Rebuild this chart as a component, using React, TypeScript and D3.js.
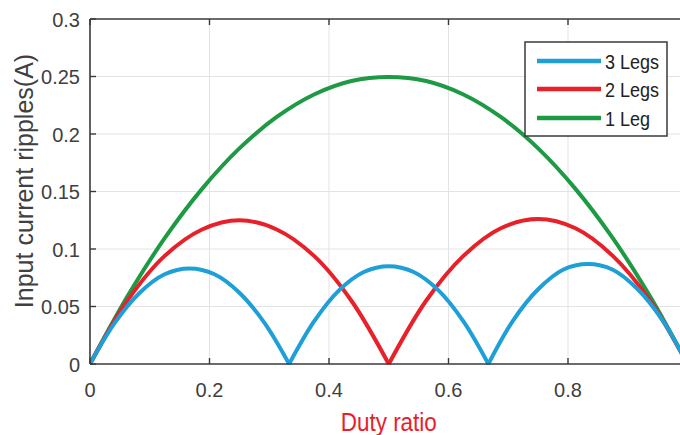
import React from "react";
import * as d3 from "d3";

// ---- data ----
const xTicks = [0, 0.2, 0.4, 0.6, 0.8];
const yTicks = [0, 0.05, 0.1, 0.15, 0.2, 0.25, 0.3];
const xTickLabels = ["0", "0.2", "0.4", "0.6", "0.8"];
const yTickLabels = ["0", "0.05", "0.1", "0.15", "0.2", "0.25", "0.3"];

const seriesNames = ["3 Legs", "2 Legs", "1 Leg"];
const seriesColors = ["#1f9fd8", "#e8202a", "#1e9a45"];

const duty3 = [
  0, 0.0417, 0.0833, 0.125, 0.1667, 0.2083, 0.25, 0.2917, 0.3333,
  0.375, 0.4167, 0.4583, 0.5, 0.5417, 0.5833, 0.625, 0.6667,
  0.7083, 0.75, 0.7917, 0.8333, 0.875, 0.9167, 0.9583, 1.0,
];
const legs3 = [
  0, 0.036, 0.062, 0.078, 0.083, 0.078, 0.062, 0.036, 0,
  0.037, 0.064, 0.08, 0.085, 0.08, 0.064, 0.037, 0,
  0.038, 0.065, 0.082, 0.087, 0.082, 0.065, 0.038, 0,
];

const duty2 = [
  0, 0.0625, 0.125, 0.1875, 0.25, 0.3125, 0.375, 0.4375, 0.5,
  0.5625, 0.625, 0.6875, 0.75, 0.8125, 0.875, 0.9375, 1.0,
];
const legs2 = [
  0, 0.055, 0.094, 0.117, 0.125, 0.117, 0.094, 0.055, 0,
  0.055, 0.094, 0.118, 0.126, 0.118, 0.094, 0.055, 0,
];

const duty1 = [
  0, 0.0625, 0.125, 0.1875, 0.25, 0.3125, 0.375, 0.4375, 0.5,
  0.5625, 0.625, 0.6875, 0.75, 0.8125, 0.875, 0.9375, 1.0,
];
const legs1 = [
  0, 0.0586, 0.1094, 0.1523, 0.1875, 0.2148, 0.2344, 0.2461, 0.2496,
  0.2461, 0.2344, 0.2148, 0.1875, 0.1523, 0.1094, 0.0586, 0,
];

const xTitle = "Duty ratio";
const yTitle = "Input current ripples(A)";

const W = 680;
const H = 435;
const L = 90;
const T = 19;
const B = 364;
const R = 687.5;

type Pt = [number, number];

function splitArcs(xs: number[], ys: number[]): Pt[][] {
  const arcs: Pt[][] = [];
  let cur: Pt[] = [];
  xs.forEach((x, i) => {
    cur.push([x, ys[i]]);
    if (ys[i] === 0 && i > 0) {
      arcs.push(cur);
      cur = [[x, ys[i]]];
    }
  });
  if (cur.length > 1) arcs.push(cur);
  return arcs;
}

export default function App() {
  const x = d3.scaleLinear().domain([0, 1]).range([L, R]);
  const y = d3.scaleLinear().domain([0, 0.3]).range([B, T]);
  const line = d3
    .line<Pt>()
    .x((d) => x(d[0]))
    .y((d) => y(d[1]))
    .curve(d3.curveCatmullRom.alpha(0.5));

  const series = [
    { xs: duty3, ys: legs3 },
    { xs: duty2, ys: legs2 },
    { xs: duty1, ys: legs1 },
  ];
  const drawOrder = [2, 1, 0];
  const axisColor = "#3a3a3a";
  const textColor = "#404040";
  const font = "'Liberation Sans', Arial, Helvetica, sans-serif";

  const legX = 525;
  const legY = 42;
  const legW = 142;
  const legH = 94;
  const rowY = [61, 89, 118];

  return (
    <svg
      width={W}
      height={H}
      style={{ position: "absolute", left: 0, top: 0, display: "block", background: "#fff" }}
      fontFamily={font}
    >
      <defs>
        <clipPath id="plotclip">
          <rect x={L} y={T - 3} width={R - L} height={B - T + 6} />
        </clipPath>
      </defs>
      <rect x={0} y={0} width={W} height={H} fill="#fff" />
      {/* grid */}
      {xTicks.slice(1).map((t) => (
        <line key={"gx" + t} x1={x(t)} x2={x(t)} y1={T} y2={B} stroke="#e3e3e3" strokeWidth={1} />
      ))}
      {yTicks.slice(1, -1).map((t) => (
        <line key={"gy" + t} x1={L} x2={R} y1={y(t)} y2={y(t)} stroke="#e3e3e3" strokeWidth={1} />
      ))}
      {/* curves */}
      <g clipPath="url(#plotclip)">
        {drawOrder.map((si) =>
          splitArcs(series[si].xs, series[si].ys).map((arc, ai) => (
            <path
              key={"s" + si + "a" + ai}
              d={line(arc) || ""}
              fill="none"
              stroke={seriesColors[si]}
              strokeWidth={4}
              strokeLinejoin="round"
            />
          ))
        )}
      </g>
      {/* axes box */}
      <line x1={L} x2={R} y1={B} y2={B} stroke={axisColor} strokeWidth={1.6} />
      <line x1={L} x2={R} y1={T} y2={T} stroke={axisColor} strokeWidth={1.6} />
      <line x1={L} x2={L} y1={T} y2={B} stroke={axisColor} strokeWidth={1.6} />
      {xTicks.map((t) => (
        <g key={"xt" + t}>
          <line x1={x(t)} x2={x(t)} y1={B} y2={B - 6} stroke={axisColor} strokeWidth={1.4} />
          <line x1={x(t)} x2={x(t)} y1={T} y2={T + 6} stroke={axisColor} strokeWidth={1.4} />
        </g>
      ))}
      {yTicks.map((t) => (
        <line key={"yt" + t} x1={L} x2={L + 6} y1={y(t)} y2={y(t)} stroke={axisColor} strokeWidth={1.4} />
      ))}
      {/* tick labels */}
      {xTicks.map((t, i) => (
        <text key={"xl" + t} x={x(t)} y={397} textAnchor="middle" fontSize={20} fill={textColor}>
          {xTickLabels[i]}
        </text>
      ))}
      {yTicks.map((t, i) => (
        <text key={"yl" + t} x={80} y={y(t) + 7.5} textAnchor="end" fontSize={20} fill={textColor}>
          {yTickLabels[i]}
        </text>
      ))}
      {/* axis titles */}
      <text
        transform={`translate(${(L + R) / 2},431) scale(0.9,1)`}
        textAnchor="middle"
        fontSize={25}
        fill="#e8202a"
      >
        {xTitle}
      </text>
      <text
        transform={`translate(33,${181}) rotate(-90)`}
        textAnchor="middle"
        fontSize={25}
        fill={textColor}
      >
        {yTitle}
      </text>
      {/* legend */}
      <rect x={legX} y={legY} width={legW} height={legH} fill="#fff" stroke={axisColor} strokeWidth={1.5} />
      {seriesNames.map((n, i) => (
        <g key={"lg" + i}>
          <line x1={537} x2={601} y1={rowY[i]} y2={rowY[i]} stroke={seriesColors[i]} strokeWidth={4.5} />
          <text
            transform={`translate(605,${rowY[i] + 7.5}) scale(0.9,1)`}
            fontSize={20}
            fill="#222"
          >
            {n}
          </text>
        </g>
      ))}
    </svg>
  );
}
